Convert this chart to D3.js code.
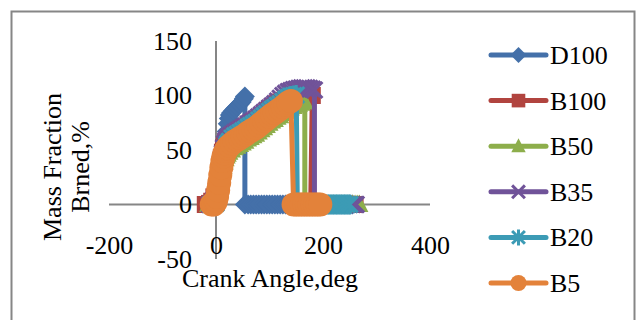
<!DOCTYPE html>
<html>
<head>
<meta charset="utf-8">
<script src="https://cdn.jsdelivr.net/npm/d3@7"></script>
<style>
  body { margin: 0; background: #fff; }
  svg { display: block; font-family: "Liberation Serif", "Times New Roman", serif; }
</style>
</head>
<body>
<svg id="chart" width="637" height="320"></svg>
<script>
// Crank angle (deg) vs mass fraction burned (%)
const xTicks = [-200, 0, 200, 400];
const yTicks = [-50, 0, 50, 100, 150];
const seriesNames = ["D100", "B100", "B50", "B35", "B20", "B5"];

const d100 = [[-15,0],[-10,0],[-5,0],[0,2],[2,5],[4,9],[6,14],[8,20],[10,27],[12,35],[14,43],[16,51],[18,59],[20,67],[22,74],[24,79],
  [26,82],[28,84],[32,86],[36,88],[40,90],[44,92],[48,94],[52,97],[54,99],[54,0],
  [60,0],[65,0],[70,0],[75,0],[80,0],[85,0],[90,0],[95,0],[100,0],[105,0],[110,0],[115,0],[120,0],[125,0],[130,0],[135,0],[140,0],[145,0],[150,0],
  [155,0],[160,0],[165,0],[170,0],[175,0],[180,0],[185,0],[190,0],[195,0],[200,0],[205,0],[210,0],[215,0],[220,0],[225,0],[230,0],[235,0],[240,0],[245,0],[250,0],[255,0]];

const b100 = [[-20,0],[-15,0],[-12,1],[-8,3],[-4,7],[0,12],[2,17],[4,23],[6,30],[8,37],[10,43],[12,48],[14,52],[16,55],[18,57],[20,58.5],[22,59.5],
  [25,61],[30,63],[35,65],[40,66.5],[45,68],[50,69.5],[55,71],[60,73],[65,74.5],[70,76],[75,77.5],[80,79.5],[85,81.5],[90,83.5],[95,85.5],[100,87.5],
  [105,89.5],[110,91],[115,92.5],[120,94],[125,95.5],[130,97],[135,98],[140,99],[150,100],[160,101],[170,101],[180,100],[177,0],
  [185,0],[190,0],[195,0],[200,0],[205,0],[210,0],[215,0],[220,0],[225,0],[230,0],[235,0],[240,0],[245,0],[250,0],[255,0],[260,0]];

const b50 = [[-15,0],[-10,0],[-6,0],[-2,1],[0,2],[2,4],[4,8],[6,13],[8,18],[10,24],[12,30],[14,35],[16,39],[18,42],[20,44.5],[22,46],[25,48],
  [30,50],[35,52],[40,53.5],[45,55],[50,56.5],[55,58],[60,60],[65,61.5],[70,63],[75,64.5],[80,66.5],[85,68.5],[90,70.5],[95,72.5],[100,74.5],
  [105,76.5],[110,78],[115,80],[120,81.5],[125,83.5],[130,85.5],[135,87],[140,88.5],[145,90],[150,91],[155,92],[160,93],[166,94],[166,0],
  [170,0],[175,0],[180,0],[185,0],[190,0],[195,0],[200,0],[205,0],[210,0],[215,0],[220,0],[225,0],[230,0],[235,0],[240,0],[245,0],[250,0],[255,0],[260,0],[265,0],[268,0]];

const b35 = [[-12,0],[-8,1],[-4,4],[0,9],[2,14],[4,20],[6,27],[8,34],[10,41],[12,47],[14,52],[16,56],[18,58.5],[20,60],[22,61],[25,62.5],
  [30,64.5],[35,66],[40,67.5],[45,69],[50,70.5],[55,72],[60,74],[65,75.5],[70,77],[75,78.5],[80,80.5],[85,82.5],[90,84.5],[95,86.5],[100,88.5],
  [105,90.5],[110,92.5],[115,95],[120,97.5],[125,100],[130,102],[135,103.5],[140,104.5],[145,105.5],[150,106],[155,106.5],[160,107],[165,107],[170,107],[175,106.5],[180,106],[184,105],[184,0],
  [190,0],[195,0],[200,0],[205,0],[210,0],[215,0],[220,0],[225,0],[230,0],[235,0],[240,0],[245,0],[250,0],[255,0],[260,0],[262,0]];

const b20 = [[-10,0],[-5,0],[0,1],[2,4],[4,9],[6,15],[8,22],[10,29],[12,36],[14,42],[16,47],[18,51],[20,54],[22,56],[25,58],
  [30,61],[35,63],[40,64.5],[45,66],[50,67.5],[55,69],[60,71],[65,72.5],[70,74],[75,75.5],[80,77.5],[85,79.5],[90,81.5],[95,83.5],[100,85.5],
  [105,87.5],[110,89],[115,91],[120,92.5],[125,94.5],[130,96.5],[135,98],[140,99.5],[145,100],[150,100.5],[152,0],
  [155,0],[160,0],[165,0],[170,0],[175,0],[180,0],[185,0],[190,0],[195,0],[200,0],[205,0],[210,0],[215,0],[220,0],[225,0],[230,0],[235,0],[240,0],[245,0],[250,0]];

const b5 = [[-8,0],[-4,0],[-1,2],[0,4],[2,7],[4,13],[6,20],[8,27],[10,34],[12,40],[14,44],[16,47],[18,49],[20,51],[22,52],[25,54],
  [30,56],[35,58],[40,59.5],[45,61],[50,62.5],[55,64],[60,66],[65,67.5],[70,69],[75,70.5],[80,72.5],[85,74.5],[90,76.5],[95,78.5],[100,80.5],
  [105,82.5],[110,84],[115,86],[120,87.5],[125,89.5],[130,91.5],[135,93.5],[140,95],[145,0],
  [150,0],[155,0],[160,0],[165,0],[170,0],[175,0],[180,0],[185,0],[190,0],[195,0]];

const seriesData = [d100, b100, b50, b35, b20, b5];
const colors = ["#4470a9", "#b1443f", "#8dae4b", "#705399", "#3c9bb5", "#e3823a"];
const shapes = ["diamond", "square", "triangle", "cross", "star", "circle"];

const svg = d3.select("#chart");

// marc exterior
svg.append("rect")
   .attr("x", 11.5).attr("y", 11.5)
   .attr("width", 623).attr("height", 330)
   .attr("fill", "#fff")
   .attr("stroke", "#868686")
   .attr("stroke-width", 2);

const x = d3.scaleLinear().domain([-200, 400]).range([109, 430]);
const y = d3.scaleLinear().domain([-50, 150]).range([259, 41]);

// eixos
svg.append("line")
   .attr("x1", x(-200)).attr("x2", x(400))
   .attr("y1", y(0)).attr("y2", y(0))
   .attr("stroke", "#868686").attr("stroke-width", 2);

svg.append("line")
   .attr("x1", x(0)).attr("x2", x(0))
   .attr("y1", y(150)).attr("y2", y(-50))
   .attr("stroke", "#868686").attr("stroke-width", 2);

const xAxis = svg.append("g")
   .attr("transform", "translate(0,232.5)")
   .call(d3.axisBottom(x).tickValues(xTicks).tickSize(0).tickFormat(d => String(d)));
xAxis.select(".domain").remove();

const yAxis = svg.append("g")
   .attr("transform", "translate(195,0)")
   .call(d3.axisLeft(y).tickValues(yTicks).tickSize(0).tickFormat(d => String(d)));
yAxis.select(".domain").remove();

svg.selectAll(".tick text")
   .style("font-family", "'Liberation Serif', 'Times New Roman', serif")
   .style("font-size", "26px")
   .attr("fill", "#000");

// títols
svg.append("text")
   .attr("x", 270).attr("y", 287)
   .attr("text-anchor", "middle")
   .style("font-size", "26px")
   .text("Crank Angle,deg");

svg.append("text")
   .attr("transform", "translate(61,167) rotate(-90)")
   .attr("text-anchor", "middle")
   .style("font-size", "26px")
   .text("Mass Fraction");

svg.append("text")
   .attr("transform", "translate(89,167) rotate(-90)")
   .attr("text-anchor", "middle")
   .style("font-size", "26px")
   .text("Brned,%");

function drawMarker(g, shape, color, s) {
    if (shape === "diamond") {
        g.append("path").attr("d", `M0,${-s}L${s},0L0,${s}L${-s},0Z`).attr("fill", color);
    } else if (shape === "square") {
        g.append("rect").attr("x", -s * 0.85).attr("y", -s * 0.85)
         .attr("width", s * 1.7).attr("height", s * 1.7).attr("fill", color);
    } else if (shape === "triangle") {
        g.append("path").attr("d", `M0,${-s}L${s * 0.9},${s * 0.75}L${-s * 0.9},${s * 0.75}Z`).attr("fill", color);
    } else if (shape === "cross" || shape === "star") {
        const a = s * 0.8;
        g.append("path")
         .attr("d", `M${-a},${-a}L${a},${a}M${-a},${a}L${a},${-a}` + (shape === "star" ? `M0,${-s}L0,${s}` : ""))
         .attr("stroke", color).attr("stroke-width", 3).attr("fill", "none");
    } else {
        g.append("circle").attr("r", s).attr("fill", color);
    }
}

const line = d3.line().x(d => x(d[0])).y(d => y(d[1]));
const markerSize = [10, 10, 10, 10, 10, 12];

seriesData.forEach((data, i) => {
    const gs = svg.append("g");
    gs.append("path")
      .datum(data)
      .attr("d", line)
      .attr("fill", "none")
      .attr("stroke", colors[i])
      .attr("stroke-width", 5)
      .attr("stroke-linejoin", "round");

    data.forEach(d => {
        const m = gs.append("g").attr("transform", `translate(${x(d[0])},${y(d[1])})`);
        drawMarker(m, shapes[i], colors[i], markerSize[i]);
    });
});

// llegenda
const legend = svg.append("g");
seriesNames.forEach((name, i) => {
    const cy = 55 + i * 45.6;
    const gl = legend.append("g").attr("transform", `translate(0,${cy})`);
    gl.append("line")
      .attr("x1", 491).attr("x2", 546)
      .attr("stroke", colors[i]).attr("stroke-width", 5)
      .attr("stroke-linecap", "round");
    const m = gl.append("g").attr("transform", "translate(518.5,0)");
    drawMarker(m, shapes[i], colors[i], 8);
    gl.append("text")
      .attr("x", 550).attr("y", 9)
      .style("font-size", "26px")
      .text(name);
});
</script>
</body>
</html>
